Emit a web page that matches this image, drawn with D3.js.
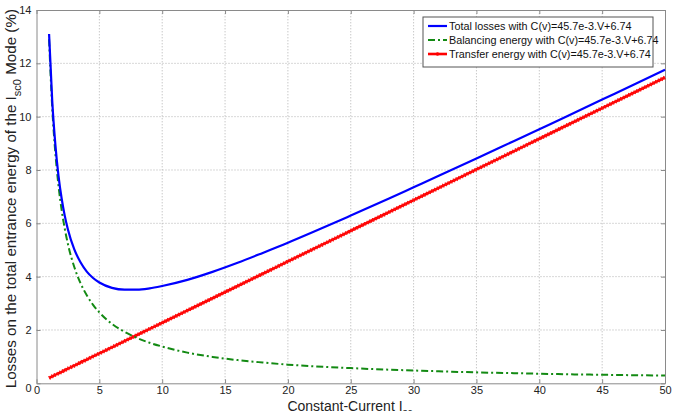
<!DOCTYPE html>
<html><head><meta charset="utf-8">
<script src="https://cdn.jsdelivr.net/npm/d3@7"></script>
<style>body{margin:0;background:#fff}svg{display:block}text{font-family:"Liberation Sans",Arial,sans-serif}</style>
</head><body>
<script>
const currents = [1,1.25,1.5,1.75,2,2.25,2.5,3,3.5,4,4.5,5,6,7,8,9,10,12,14,16,18,20,22,25,28,30,32,35,38,40,42,45,48,50];
const balancing = [12.90,10.34,8.63,7.41,6.50,5.79,5.22,4.37,3.76,3.30,2.94,2.66,2.23,1.93,1.70,1.52,1.38,1.15,0.99,0.87,0.78,0.70,0.64,0.57,0.51,0.48,0.45,0.41,0.38,0.36,0.34,0.32,0.30,0.29];
const transfer = [0.20,0.26,0.32,0.37,0.43,0.49,0.55,0.66,0.78,0.89,1.01,1.12,1.35,1.58,1.81,2.04,2.27,2.73,3.19,3.65,4.11,4.57,5.03,5.72,6.41,6.87,7.33,8.02,8.71,9.17,9.63,10.32,11.01,11.47];
const total = [13.10,10.60,8.95,7.78,6.93,6.28,5.77,5.03,4.54,4.19,3.95,3.78,3.58,3.51,3.51,3.56,3.65,3.88,4.18,4.52,4.89,5.27,5.67,6.29,6.92,7.35,7.78,8.43,9.09,9.53,9.97,10.64,11.31,11.76];
const xTicks = [0,5,10,15,20,25,30,35,40,45,50];
const yTicks = [0,2,4,6,8,10,12,14];
const legendLabels = ["Total losses with C(v)=45.7e-3.V+6.74","Balancing energy with C(v)=45.7e-3.V+6.74","Transfer energy with C(v)=45.7e-3.V+6.74"];

const W=673,H=411, m={l:36.5,r:8,t:10,b:27.7};
const svg=d3.select("body").append("svg").attr("width",W).attr("height",H);
const x=d3.scaleLinear().domain([0,50]).range([m.l,W-m.r]);
const y=d3.scaleLinear().domain([0,14]).range([H-m.b,m.t]);
const axisCol="#8a8a8a";

// grid
const g=svg.append("g");
g.selectAll(".gx").data(xTicks.slice(1,-1)).join("line").attr("x1",d=>x(d)).attr("x2",d=>x(d)).attr("y1",y(0)).attr("y2",y(14))
 .attr("stroke","#b0b0b0").attr("stroke-width",1).attr("stroke-dasharray","1,2");
g.selectAll(".gy").data(yTicks.slice(1,-1)).join("line").attr("y1",d=>y(d)).attr("y2",d=>y(d)).attr("x1",x(0)).attr("x2",x(50))
 .attr("stroke","#b0b0b0").attr("stroke-width",1).attr("stroke-dasharray","1,2");

// axes
const xa=svg.append("g").attr("transform",`translate(0,${y(0)})`).call(d3.axisBottom(x).tickValues(xTicks).tickSizeInner(-4).tickSizeOuter(0).tickPadding(3));
const xt=svg.append("g").attr("transform",`translate(0,${y(14)})`).call(d3.axisTop(x).tickValues(xTicks).tickSizeInner(-4).tickSizeOuter(0).tickFormat(""));
const ya=svg.append("g").attr("transform",`translate(${x(0)},0)`).call(d3.axisLeft(y).tickValues(yTicks).tickSizeInner(-4).tickSizeOuter(0).tickPadding(5));
const yr=svg.append("g").attr("transform",`translate(${x(50)},0)`).call(d3.axisRight(y).tickValues(yTicks).tickSizeInner(-4).tickSizeOuter(0).tickFormat(""));
[xa,xt,ya,yr].forEach(a=>{a.select(".domain").attr("stroke",axisCol);a.selectAll(".tick line").attr("stroke",axisCol);
  a.selectAll("text").attr("font-size",11).attr("fill","#222").style("font-family","Liberation Sans, Arial, sans-serif");});
ya.selectAll(".tick").filter(d=>d===0).select("text").attr("dy","0.7em");

// lines
const pts=(arr)=>currents.map((c,i)=>[c,arr[i]]);
const line=d3.line().x(d=>x(d[0])).y(d=>y(d[1])).curve(d3.curveMonotoneX);
svg.append("path").attr("d",line(pts(transfer))).attr("fill","none").attr("stroke","#ff0000").attr("stroke-width",2.6);
svg.append("path").attr("d",line(pts(transfer))).attr("fill","none").attr("stroke","#ff1010").attr("stroke-width",4).attr("stroke-dasharray","1.2,1.8");
svg.append("path").attr("d",line(pts(balancing))).attr("fill","none").attr("stroke","#138a13").attr("stroke-width",2).attr("stroke-dasharray","7,3,2,3");
svg.append("path").attr("d",line(pts(total))).attr("fill","none").attr("stroke","#0000ff").attr("stroke-width",2.2);

// labels
svg.append("text").attr("x",350).attr("y",411).attr("text-anchor","middle").attr("font-size",14).attr("fill","#222")
 .html('Constant-Current I<tspan font-size="10" dy="5">sc</tspan>');
svg.append("text").attr("transform",`translate(16,${(y(0)+y(14))/2+2}) rotate(-90)`).attr("text-anchor","middle").attr("font-size",15.2).attr("fill","#222")
 .html('Losses on the total entrance energy of the I<tspan font-size="11" dy="5">sc0</tspan><tspan dy="-5"> Mode (%)</tspan>');

// legend
const lg=svg.append("g").attr("transform","translate(423,17)");
lg.append("rect").attr("width",230).attr("height",50).attr("fill","#fff").attr("stroke","#555").attr("stroke-width",1);
const styles=[{c:"#0000ff",d:null,w:2.2},{c:"#138a13",d:"7,3,2,3",w:2},{c:"#ff0000",d:null,w:2.6}];
legendLabels.forEach((t,i)=>{
  const yy=9+i*14;
  lg.append("line").attr("x1",5).attr("x2",24).attr("y1",yy).attr("y2",yy).attr("stroke",styles[i].c).attr("stroke-width",styles[i].w).attr("stroke-dasharray",styles[i].d);
  if(i===2) lg.append("circle").attr("cx",14.5).attr("cy",yy).attr("r",1.8).attr("fill","#ff0000");
  lg.append("text").attr("x",26).attr("y",yy+4).attr("font-size",10.8).attr("fill","#111").text(t);
});
</script>
</body></html>
